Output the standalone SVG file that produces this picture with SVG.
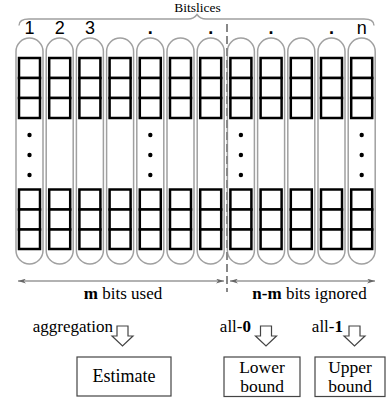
<svg xmlns="http://www.w3.org/2000/svg" xmlns:xlink="http://www.w3.org/1999/xlink" width="388" height="400" viewBox="0 0 388 400">
  <style>
    .pill { fill: #fff; stroke: #a0a0a0; stroke-width: 1.5; }
    .bit { fill: #fff; stroke: #000; stroke-width: 2.5; }
    .dot { fill: #000; }
    .num { font-family: "Liberation Sans", Arial, sans-serif; font-size: 18px; fill: #000; text-anchor: middle; }
    .serif { font-family: "Liberation Serif", "Times New Roman", serif; fill: #000; }
    .box { fill: #fff; stroke: #444; stroke-width: 1.2; }
    .hollow { fill: #fff; stroke: #444; stroke-width: 1.2; stroke-linejoin: miter; }
    .span { stroke: #666; stroke-width: 1.2; fill: none; }
    .brace { stroke: #a0a0a0; stroke-width: 1.4; fill: none; }
    .split { stroke: #888; stroke-width: 2; stroke-dasharray: 8 4; }
  </style>
  <defs>
    <marker id="tip" viewBox="0 0 10 6" refX="10" refY="3" markerWidth="8" markerHeight="5" markerUnits="userSpaceOnUse" orient="auto-start-reverse">
      <path d="M0,0 L10,3 L0,6 L3,3 Z" fill="#666"/>
    </marker>
    <!-- one bitslice column, centred on x = 0 -->
    <g id="slice">
      <rect class="pill" x="-13.5" y="38" width="27" height="226" rx="13.5" ry="13.5"/>
      <rect class="bit" x="-10.5" y="58" width="21" height="20"/>
      <rect class="bit" x="-10.5" y="78" width="21" height="20"/>
      <rect class="bit" x="-10.5" y="98" width="21" height="20"/>
      <rect class="bit" x="-10.5" y="189.5" width="21" height="20"/>
      <rect class="bit" x="-10.5" y="209.5" width="21" height="20"/>
      <rect class="bit" x="-10.5" y="229.5" width="21" height="19.5"/>
    </g>
    <g id="ellipsis">
      <circle class="dot" cx="0" cy="135" r="2.2"/>
      <circle class="dot" cx="0" cy="155" r="2.2"/>
      <circle class="dot" cx="0" cy="175" r="2.2"/>
    </g>
    <path id="down" class="hollow" d="M-5.5,326 H5.5 V336 H10.5 L0,346 L-10.5,336 H-5.5 Z"/>
  </defs>

  <!-- header brace -->
  <g id="header">
    <path class="brace" d="M19,25.5 Q19,19 29,19 H188 Q194,19 197,14.5 Q200,19 206,19 H364 Q374,19 374,25.5"/>
    <text class="serif" x="197.5" y="12" font-size="13.5" text-anchor="middle">Bitslices</text>
  </g>

  <!-- bitslice columns -->
  <g id="slice-1"><use xlink:href="#slice" x="29.5"/><use xlink:href="#ellipsis" x="29.5"/><text class="num" x="29.5" y="33.5">1</text></g>
  <g id="slice-2"><use xlink:href="#slice" x="59.7"/><text class="num" x="59.7" y="33.5">2</text></g>
  <g id="slice-3"><use xlink:href="#slice" x="89.9"/><text class="num" x="89.9" y="33.5">3</text></g>
  <g id="slice-4"><use xlink:href="#slice" x="120.1"/></g>
  <g id="slice-5"><use xlink:href="#slice" x="150.3"/><use xlink:href="#ellipsis" x="150.3"/><text class="num" x="150.3" y="33.5" font-weight="bold">.</text></g>
  <g id="slice-6"><use xlink:href="#slice" x="180.5"/></g>
  <g id="slice-7"><use xlink:href="#slice" x="210.7"/><text class="num" x="210.7" y="33.5" font-weight="bold">.</text></g>
  <g id="slice-8"><use xlink:href="#slice" x="240.9"/><use xlink:href="#ellipsis" x="240.9"/></g>
  <g id="slice-9"><use xlink:href="#slice" x="271.1"/><text class="num" x="271.1" y="33.5" font-weight="bold">.</text></g>
  <g id="slice-10"><use xlink:href="#slice" x="301.3"/></g>
  <g id="slice-11"><use xlink:href="#slice" x="331.5"/><text class="num" x="331.5" y="33.5" font-weight="bold">.</text></g>
  <g id="slice-12"><use xlink:href="#slice" x="361.7"/><use xlink:href="#ellipsis" x="361.7"/><text class="num" x="361.7" y="33.5">n</text></g>

  <!-- used / ignored split -->
  <line class="split" x1="227" y1="24" x2="227" y2="292"/>

  <!-- connectors -->
  <g id="connectors">
    <line class="span" x1="18" y1="281" x2="224" y2="281" marker-start="url(#tip)" marker-end="url(#tip)"/>
    <line class="span" x1="230" y1="281" x2="375" y2="281" marker-start="url(#tip)" marker-end="url(#tip)"/>
    <use xlink:href="#down" x="122.5"/>
    <use xlink:href="#down" x="266"/>
    <use xlink:href="#down" x="354.5"/>
  </g>

  <!-- labels -->
  <g id="labels" class="serif" font-size="17">
    <text x="123" y="298.5" text-anchor="middle"><tspan font-weight="bold">m</tspan> bits used</text>
    <text x="309.5" y="298.5" text-anchor="middle"><tspan font-weight="bold">n-m</tspan> bits ignored</text>
    <text x="113" y="332" text-anchor="end">aggregation</text>
    <text x="251" y="332" text-anchor="end">all-<tspan font-weight="bold">0</tspan></text>
    <text x="343" y="332" text-anchor="end">all-<tspan font-weight="bold">1</tspan></text>
  </g>

  <!-- result boxes -->
  <g id="estimate">
    <rect class="box" x="77" y="357" width="94" height="39"/>
    <text class="serif" x="124" y="382" font-size="18" text-anchor="middle">Estimate</text>
  </g>
  <g id="lower-bound">
    <rect class="box" x="224" y="357" width="76" height="39.5"/>
    <text class="serif" x="262" y="373" font-size="17.5" text-anchor="middle">Lower</text>
    <text class="serif" x="262" y="391.5" font-size="17.5" text-anchor="middle">bound</text>
  </g>
  <g id="upper-bound">
    <rect class="box" x="315" y="357" width="70" height="39.5"/>
    <text class="serif" x="350" y="373" font-size="17.5" text-anchor="middle">Upper</text>
    <text class="serif" x="350" y="391.5" font-size="17.5" text-anchor="middle">bound</text>
  </g>
</svg>
